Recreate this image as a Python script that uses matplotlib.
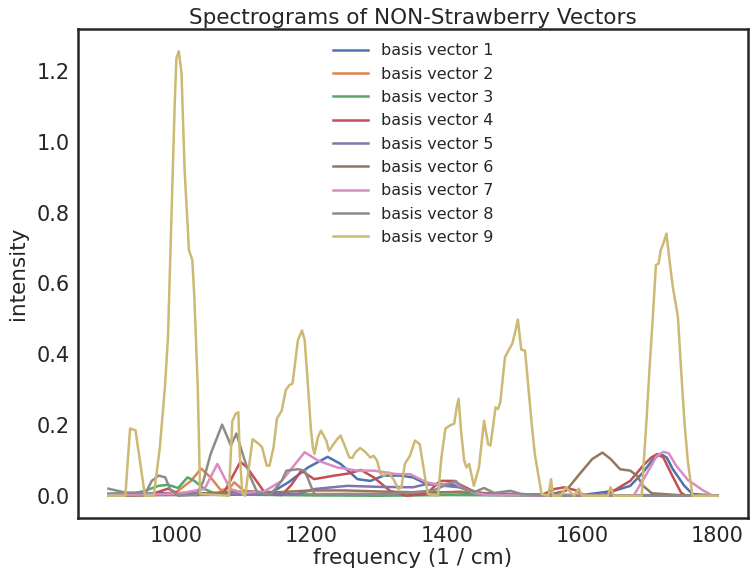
import matplotlib
matplotlib.use("Agg")
import matplotlib.pyplot as plt
import numpy as np

# (frequency, intensity) pairs, one list per basis vector
VEC1 = [(900, 0.005), (950, 0.006), (1000, 0.008), (1050, 0.006), (1075, 0.008),
        (1087, 0.014), (1100, 0.006), (1137, 0.005), (1166, 0.038), (1195, 0.08),
        (1224, 0.11), (1243, 0.09), (1268, 0.047), (1287, 0.042), (1307, 0.057),
        (1331, 0.057), (1350, 0.052), (1370, 0.033), (1389, 0.033), (1410, 0.03),
        (1440, 0.012), (1455, 0.003), (1500, 0.002), (1600, 0.002), (1647, 0.014),
        (1671, 0.028), (1690, 0.066), (1705, 0.104), (1716, 0.118), (1725, 0.108),
        (1734, 0.075), (1751, 0.028), (1763, 0.005), (1800, 0.0)]
VEC2 = [(900, 0.003), (980, 0.004), (1000, 0.01), (1022, 0.042), (1037, 0.077),
        (1051, 0.052), (1066, 0.016), (1078, 0.02), (1086, 0.038), (1100, 0.014),
        (1150, 0.005), (1300, 0.005), (1400, 0.01), (1420, 0.012), (1450, 0.004),
        (1600, 0.002), (1800, 0.0)]
VEC3 = [(900, 0.006), (940, 0.008), (954, 0.014), (974, 0.028), (988, 0.031),
        (1003, 0.022), (1017, 0.052), (1027, 0.042), (1042, 0.019), (1054, 0.009),
        (1070, 0.004), (1100, 0.003), (1200, 0.001), (1300, 0.0), (1400, 0.002),
        (1500, 0.001), (1600, 0.0), (1700, 0.002), (1800, 0.0)]
VEC4 = [(900, 0.0), (960, 0.002), (988, 0.02), (1005, 0.005), (1030, 0.002),
        (1050, 0.005), (1071, 0.01), (1085, 0.06), (1095, 0.096), (1105, 0.08),
        (1115, 0.052), (1129, 0.014), (1145, 0.003), (1156, 0.002), (1170, 0.03),
        (1185, 0.071), (1204, 0.047), (1234, 0.057), (1255, 0.063), (1273, 0.073),
        (1292, 0.052), (1316, 0.014), (1340, 0.0), (1370, 0.005), (1390, 0.042),
        (1410, 0.042), (1418, 0.033), (1438, 0.014), (1460, 0.004), (1540, 0.002),
        (1559, 0.019), (1574, 0.024), (1593, 0.014), (1603, 0.0), (1630, 0.002),
        (1642, 0.009), (1671, 0.042), (1690, 0.085), (1702, 0.108), (1711, 0.118),
        (1720, 0.108), (1732, 0.061), (1746, 0.009), (1753, 0.0), (1800, 0.0)]
VEC5 = [(900, 0.002), (1000, 0.002), (1100, 0.003), (1180, 0.005), (1204, 0.019),
        (1253, 0.028), (1302, 0.025), (1350, 0.024), (1370, 0.033), (1418, 0.024),
        (1442, 0.009), (1470, 0.003), (1600, 0.001), (1800, 0.0)]
VEC6 = [(900, 0.0), (1000, 0.003), (1100, 0.012), (1150, 0.01), (1200, 0.015),
        (1250, 0.015), (1300, 0.012), (1350, 0.01), (1400, 0.01), (1450, 0.008),
        (1500, 0.005), (1550, 0.003), (1576, 0.014), (1596, 0.061), (1615, 0.104),
        (1630, 0.122), (1642, 0.104), (1656, 0.075), (1671, 0.071), (1681, 0.057),
        (1690, 0.028), (1703, 0.007), (1750, 0.001), (1800, 0.0)]
VEC7 = [(900, 0.002), (1000, 0.005), (1042, 0.019), (1061, 0.09), (1080, 0.019),
        (1100, 0.008), (1130, 0.012), (1156, 0.042), (1190, 0.123), (1210, 0.099),
        (1238, 0.08), (1268, 0.071), (1292, 0.071), (1326, 0.061), (1346, 0.061),
        (1370, 0.038), (1390, 0.03), (1409, 0.038), (1438, 0.009), (1460, 0.002),
        (1600, 0.001), (1676, 0.0), (1695, 0.061), (1710, 0.112), (1720, 0.124),
        (1728, 0.12), (1739, 0.085), (1756, 0.045), (1778, 0.016), (1793, 0.0),
        (1800, 0.0)]
VEC8 = [(900, 0.02), (925, 0.009), (955, 0.008), (964, 0.042), (974, 0.057),
        (984, 0.052), (991, 0.019), (1003, 0.0), (1030, 0.003), (1040, 0.04),
        (1051, 0.118), (1068, 0.201), (1081, 0.142), (1089, 0.176), (1100, 0.108),
        (1110, 0.052), (1120, 0.009), (1140, 0.004), (1156, 0.042), (1163, 0.071),
        (1180, 0.075), (1190, 0.071), (1200, 0.024), (1205, 0.002), (1250, 0.005),
        (1300, 0.004), (1350, 0.01), (1380, 0.015), (1413, 0.042), (1425, 0.02),
        (1440, 0.01), (1455, 0.022), (1470, 0.008), (1494, 0.014), (1510, 0.005),
        (1560, 0.0), (1800, 0.0)]
VEC9 = [(900, 0.0), (925, 0.0), (932, 0.19), (940, 0.185), (954, 0.0), (967, 0.0),
        (976, 0.137), (983.5, 0.307), (988, 0.448), (993, 0.78), (998, 1.11),
        (1000.5, 1.237), (1004, 1.256), (1008, 1.194), (1012.6, 0.92), (1016, 0.80),
        (1019, 0.694), (1024, 0.666), (1027, 0.56), (1032, 0.307), (1035.5, 0.005),
        (1078, 0.0), (1083, 0.21), (1088, 0.232), (1092, 0.236), (1094, 0.118),
        (1098, 0.005), (1102, 0.0), (1113, 0.16), (1122, 0.147), (1127, 0.137),
        (1134, 0.085), (1138, 0.085), (1144, 0.137), (1149, 0.218), (1156, 0.24),
        (1162, 0.298), (1167, 0.312), (1172, 0.317), (1175, 0.363), (1180, 0.44),
        (1186, 0.467), (1190, 0.44), (1195, 0.307), (1199, 0.193), (1202, 0.137),
        (1204.5, 0.118), (1209.5, 0.165), (1214, 0.184), (1222, 0.156), (1226, 0.127),
        (1233, 0.147), (1238.5, 0.161), (1243, 0.17), (1248, 0.147), (1256, 0.108),
        (1260.5, 0.107), (1265, 0.123), (1272, 0.135), (1280, 0.123), (1287, 0.108),
        (1292, 0.113), (1297, 0.099), (1302, 0.062), (1307, 0.057), (1314, 0.066),
        (1321, 0.047), (1328.5, 0.019), (1333, 0.024), (1338, 0.09), (1345.5, 0.113),
        (1353, 0.156), (1360, 0.146), (1367, 0.062), (1372, 0.005), (1387, 0.0),
        (1392, 0.108), (1398, 0.19), (1404, 0.198), (1411, 0.204), (1414.6, 0.25),
        (1417.5, 0.274), (1421, 0.184), (1425.7, 0.099), (1429, 0.08), (1433, 0.09),
        (1440, 0.028), (1447.5, 0.08), (1455, 0.212), (1461, 0.146), (1464.5, 0.142),
        (1472, 0.25), (1475.6, 0.245), (1479, 0.264), (1486, 0.392), (1491, 0.41),
        (1497, 0.431), (1501, 0.463), (1505, 0.498), (1510, 0.413), (1515.6, 0.41),
        (1520, 0.316), (1525, 0.212), (1530, 0.118), (1535, 0.062), (1540, 0.005),
        (1550, 0.0), (1554, 0.047), (1557, 0.0), (1568, 0.0), (1576, 0.024),
        (1588, 0.0), (1595, 0.02), (1600, 0.0), (1638, 0.0), (1642, 0.024),
        (1647, 0.0), (1688, 0.0), (1690.5, 0.08), (1695, 0.212), (1700, 0.373),
        (1705, 0.524), (1709, 0.652), (1713, 0.656), (1716, 0.694), (1720, 0.713),
        (1724.5, 0.741), (1729, 0.666), (1734, 0.59), (1741.5, 0.505), (1746, 0.363),
        (1751, 0.212), (1756, 0.099), (1763, 0.0), (1800, 0.0)]

VECTORS = [VEC1, VEC2, VEC3, VEC4, VEC5, VEC6, VEC7, VEC8, VEC9]
LABELS = [f"basis vector {i}" for i in range(1, 10)]
COLORS = ["#4C72B0", "#DD8452", "#55A868", "#C44E52", "#8172B3",
          "#937860", "#DA8BC3", "#8C8C8C", "#CCB974"]

INK = "#262626"
plt.rcParams.update({
    "font.family": "DejaVu Sans",
    "text.color": INK,
    "axes.labelcolor": INK,
    "xtick.color": INK,
    "ytick.color": INK,
    "axes.edgecolor": INK,
})

fig = plt.figure(figsize=(7.54, 5.82), dpi=100)
ax = fig.add_axes([0.1034, 0.110, 0.8886, 0.840])

for vec, label, color in zip(VECTORS, LABELS, COLORS):
    freq, inten = np.array(vec).T
    ax.plot(freq, inten, color=color, lw=1.8, label=label)

ax.set_xticks([1000, 1200, 1400, 1600, 1800])
ax.set_yticks(np.arange(0, 1.21, 0.2))
ax.tick_params(labelsize=15, length=0, pad=6)
for side in ax.spines.values():
    side.set_linewidth(1.8)
ax.set_xlabel("frequency (1 / cm)", fontsize=15.5, labelpad=1)
ax.set_ylabel("intensity", fontsize=15.5, labelpad=6)
ax.set_title("Spectrograms of NON-Strawberry Vectors", fontsize=15.5, pad=4)
ax.legend(loc="upper center", frameon=False, fontsize=11.5,
          handlelength=2.2, labelspacing=0.52)

fig.savefig("out.png", dpi=100)
